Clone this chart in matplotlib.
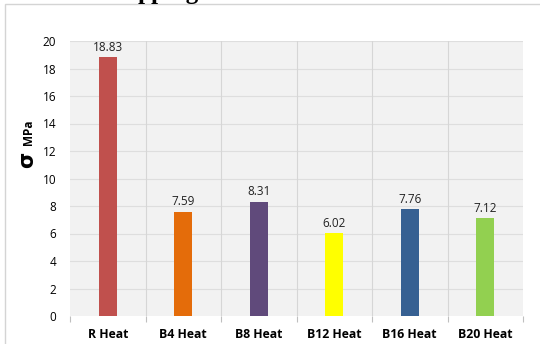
import matplotlib.pyplot as plt
from matplotlib.patches import Rectangle

# tensile strength per heat treatment
categorias = ["R Heat", "B4 Heat", "B8 Heat", "B12 Heat", "B16 Heat", "B20 Heat"]
esfuerzo = [18.83, 7.59, 8.31, 6.02, 7.76, 7.12]
colores = ["#C0504D", "#E46C0A", "#604A7B", "#FFFF00", "#366092", "#92D050"]
y_ticks = [0, 2, 4, 6, 8, 10, 12, 14, 16, 18, 20]

fig = plt.figure(figsize=(5.4, 3.44), dpi=100)
fig.patch.set_facecolor("white")

# marco exterior del grafico
fig.patches.append(Rectangle((5 / 540, -0.05), 1.1, 1 - 4 / 344 + 0.05,
                             transform=fig.transFigure, fill=False,
                             edgecolor="#d4d4d4", linewidth=1.0))

# titulo cortado arriba
fig.text(0.254, 1.022, "pping", fontfamily="Liberation Serif", fontsize=18,
         fontweight="bold", ha="left", va="center")

ax = fig.add_axes([70 / 540, 1 - 316 / 344, (523 - 70) / 540, (316 - 41) / 344])
ax.set_facecolor("#f2f2f2")

x = list(range(len(categorias)))
barras = ax.bar(x, esfuerzo, width=0.24, color=colores, zorder=3)
for xi, v in zip(x, esfuerzo):
    ax.text(xi, v + 0.25, f"{v:.2f}", ha="center", va="bottom", fontsize=8.5,
            fontfamily="Open Sans", color="#222222", zorder=4)

ax.set_xlim(-0.5, len(categorias) - 0.5)
ax.set_ylim(0, 20)
ax.set_yticks(y_ticks)
ax.set_yticklabels([str(t) for t in y_ticks], fontfamily="Open Sans", fontsize=8.5)
ax.tick_params(axis="y", length=0, pad=10)

# etiquetas de categoria, marcas entre categorias
ax.set_xticks(x)
ax.set_xticklabels(categorias, fontfamily="Open Sans", fontweight="bold", fontsize=8.8)
ax.tick_params(axis="x", which="major", length=0, pad=9)
limites = [i - 0.5 for i in range(len(categorias) + 1)]
ax.set_xticks(limites, minor=True)
ax.tick_params(axis="x", which="minor", length=4, color="#bfbfbf", width=0.8)

for y in y_ticks[1:]:
    ax.axhline(y, color="#dedede", linewidth=0.8, zorder=1)
for b in limites[1:-1]:
    ax.axvline(b, color="#d6d6d6", linewidth=0.8, zorder=1)

for s in ax.spines.values():
    s.set_visible(False)

fig.text(0.050, 0.535, "σ", fontsize=15, fontweight="bold", rotation=90,
         ha="center", va="center", fontfamily="DejaVu Sans")
fig.text(0.052, 0.615, "MPa", fontsize=8.5, fontweight="bold", rotation=90,
         ha="center", va="center", fontfamily="Open Sans")

fig.savefig("out.png", dpi=100)
